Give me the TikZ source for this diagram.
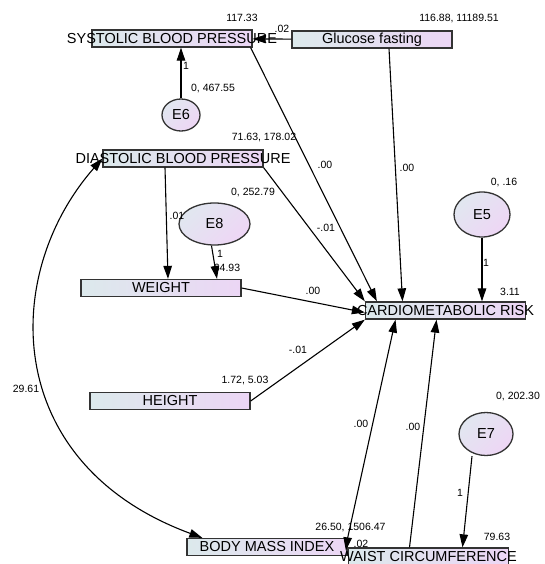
\documentclass[tikz,border=0pt]{standalone}
\usepackage{fontspec}
\setmainfont{Liberation Sans}
\usetikzlibrary{arrows.meta, shapes.geometric}

\definecolor{boxL}{RGB}{220,233,236}
\definecolor{boxR}{RGB}{236,214,245}
\definecolor{errL}{RGB}{225,231,240}
\definecolor{errR}{RGB}{238,214,245}

\newcommand{\vname}[1]{\makebox[0pt]{#1}}

\begin{document}
\begin{tikzpicture}[x=1pt, y=-1pt, >={Triangle[length=13pt, width=8.5pt]}]

		% --- Stili ---
		\tikzset{
			var/.style={draw=black!80, line width=1.3pt, left color=boxL, right color=boxR,
				minimum width=160pt, minimum height=17pt, inner sep=0pt,
				font=\fontsize{14.5}{16}\selectfont},
			err/.style={ellipse, draw=black!80, line width=1.3pt, left color=errL, right color=errR,
				shading angle=45, inner sep=0pt, font=\fontsize{14.5}{16}\selectfont},
			reg/.style={->, line width=1.1pt},
			cov/.style={<->, line width=1.1pt},
			num/.style={inner sep=0pt, font=\fontsize{10.5}{12}\selectfont}
		}

		\useasboundingbox (0,0) rectangle (544,564);

		% --- Variabili osservate ---
		\node[var] (sbp) at (172,38.5) {\vname{SYSTOLIC BLOOD PRESSURE}};
		\node[var] (glu) at (372,39.5) {\vname{Glucose fasting}};
		\node[var] (dbp) at (183,158.5) {\vname{DIASTOLIC BLOOD PRESSURE}};
		\node[var] (weight) at (161,288) {\vname{WEIGHT}};
		\node[var] (height) at (170,401) {\vname{HEIGHT}};
		\node[var] (cr) at (445.5,310.5) {\vname{CARDIOMETABOLIC RISK}};
		\node[var] (bmi) at (267,547) {\vname{BODY MASS INDEX}};
		\node[var] (wc) at (428.5,556.5) {\vname{WAIST CIRCUMFERENCE}};

		% --- Errori ---
		\node[err, minimum width=38pt, minimum height=32pt] (e6) at (181,115) {E6};
		\node[err, minimum width=71pt, minimum height=42pt] (e8) at (214.5,224) {E8};
		\node[err, minimum width=56pt, minimum height=45pt] (e5) at (482,214.5) {E5};
		\node[err, minimum width=54pt, minimum height=43pt] (e7) at (486,434) {E7};

		% --- Percorsi ---
		\draw[reg] (glu) -- (sbp);
		\draw[reg] (e6) -- (e6 |- sbp.south);
		\draw[reg] ([xshift=-2pt]sbp.south east) -- ([xshift=12pt]cr.north west);
		\draw[reg] ([xshift=17pt]glu.south) -- ([xshift=-43pt]cr.north);
		\draw[reg] (dbp.south east) -- (cr.north west);
		\draw[reg] ([xshift=-18pt]dbp.south) -- ([xshift=7pt]weight.north);
		\draw[reg] ([xshift=-3pt]e8.south) -- ([xshift=56pt]weight.north);
		\draw[reg] (e5) -- (e5 |- cr.north);
		\draw[reg] (weight.east) -- ([yshift=-2pt]cr.west);
		\draw[reg] (height.east) -- (cr.south west);
		\draw[reg] (bmi.north east) -- ([xshift=-50pt]cr.south);
		\draw[reg] ([xshift=-19pt]wc.north) -- ([xshift=-9pt]cr.south);
		\draw[reg] ([xshift=-14pt]e7.south) -- ([xshift=34pt]wc.north);
		\draw[reg] (bmi.north east) -- ([xshift=-2pt, yshift=-3pt]wc.north west);

		% Covarianza DBP - BMI
		\draw[cov] (dbp.west) .. controls (0,275) and (2,464) .. ([xshift=16pt]bmi.north west);

		% --- Stime ---
		\node[num] (n-sbp) at (242,17.5) {117.33};
		\node[num] (n-glu) at (459,19) {116.88, 11189.51};
		\node[num] (c-glu-sbp) at (282,29) {.02};
		\node[num] (c-e6) at (186,66) {1};
		\node[num] (n-e6) at (213,89) {0, 467.55};
		\node[num] (n-dbp) at (264,137.5) {71.63, 178.02};
		\node[num] (n-e8) at (253,192.5) {0, 252.79};
		\node[num] (c-dbp-w) at (177,216) {.01};
		\node[num] (c-e8) at (220,254) {1};
		\node[num] (n-weight) at (227,267.5) {64.93};
		\node[num] (c-sbp-cr) at (325,165) {.00};
		\node[num] (c-glu-cr) at (407,168) {.00};
		\node[num] (c-dbp-cr) at (326,227.5) {-.01};
		\node[num] (n-e5) at (504,182.5) {0, .16};
		\node[num] (c-e5) at (486,262.5) {1};
		\node[num] (n-cr) at (510,291.7) {3.11};
		\node[num] (c-w-cr) at (313,291) {.00};
		\node[num] (c-h-cr) at (298,349.5) {-.01};
		\node[num] (n-height) at (245,381) {1.72, 5.03};
		\node[num] (c-cov) at (26,388.5) {29.61};
		\node[num] (n-e7) at (518,397) {0, 202.30};
		\node[num] (c-bmi-cr) at (361,424) {.00};
		\node[num] (c-wc-cr) at (413,426.5) {.00};
		\node[num] (c-e7) at (460,492.5) {1};
		\node[num] (n-bmi) at (350.5,527.5) {26.50, 1506.47};
		\node[num] (c-bmi-wc) at (361,543.5) {.02};
		\node[num] (n-wc) at (497,537) {79.63};

\end{tikzpicture}
\end{document}
